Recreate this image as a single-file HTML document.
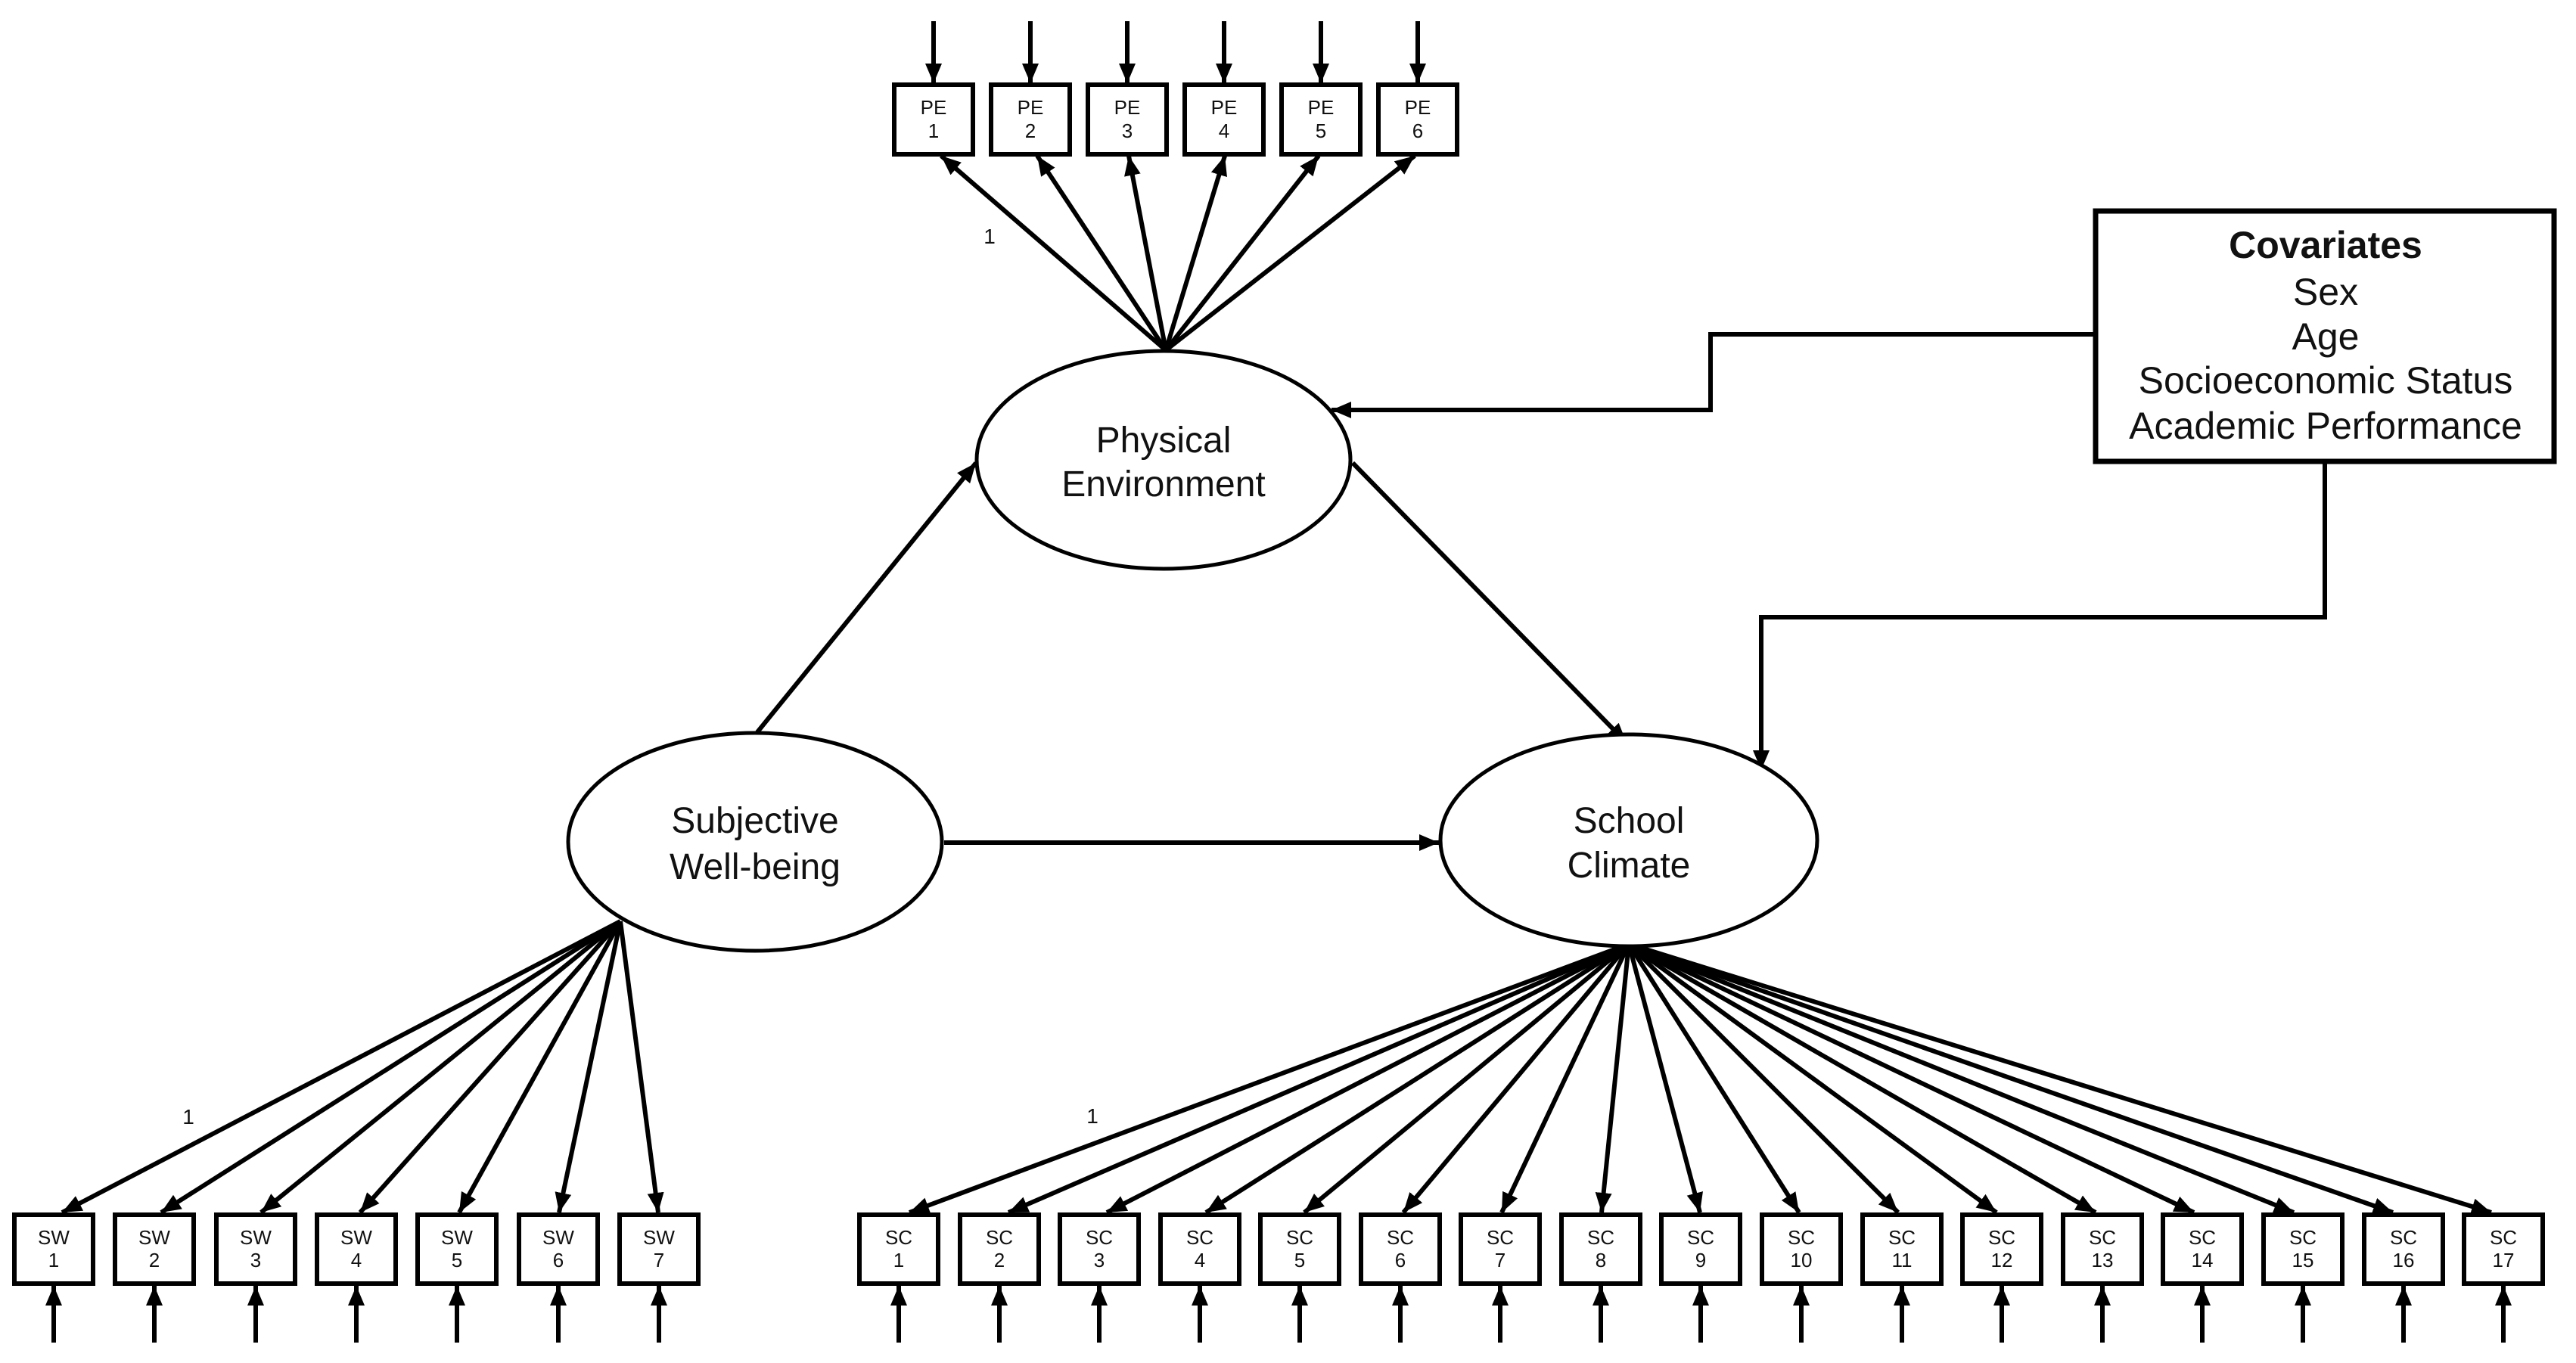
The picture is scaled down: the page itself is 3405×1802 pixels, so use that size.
<!DOCTYPE html>
<html><head><meta charset="utf-8"><style>
html,body{margin:0;padding:0;background:#fff;}
svg{display:block;}
text{font-family:"Liberation Sans",Arial,sans-serif;fill:#111;}
</style></head><body>
<svg width="3405" height="1802" viewBox="0 0 3405 1802" xmlns="http://www.w3.org/2000/svg">
<defs>
<marker id="a" markerUnits="userSpaceOnUse" markerWidth="28" markerHeight="24" refX="26" refY="11" orient="auto"><path d="M0,0 L26,11 L0,22 z" fill="#000"/></marker>
</defs>
<rect width="3405" height="1802" fill="#fff"/>

<g stroke="#000" stroke-width="6" fill="none" marker-end="url(#a)">
<line x1="1234" y1="28" x2="1234" y2="110"/>
<line x1="1362" y1="28" x2="1362" y2="110"/>
<line x1="1490" y1="28" x2="1490" y2="110"/>
<line x1="1618" y1="28" x2="1618" y2="110"/>
<line x1="1746" y1="28" x2="1746" y2="110"/>
<line x1="1874" y1="28" x2="1874" y2="110"/>
<line x1="1541" y1="463" x2="1244" y2="206"/>
<line x1="1541" y1="463" x2="1371" y2="206"/>
<line x1="1541" y1="463" x2="1492" y2="206"/>
<line x1="1541" y1="463" x2="1619" y2="206"/>
<line x1="1541" y1="463" x2="1743" y2="206"/>
<line x1="1541" y1="463" x2="1870" y2="206"/>
<line x1="820" y1="1218" x2="82" y2="1603"/>
<line x1="820" y1="1218" x2="213" y2="1603"/>
<line x1="820" y1="1218" x2="345" y2="1603"/>
<line x1="820" y1="1218" x2="476" y2="1603"/>
<line x1="820" y1="1218" x2="607" y2="1603"/>
<line x1="820" y1="1218" x2="739" y2="1603"/>
<line x1="820" y1="1218" x2="870" y2="1603"/>
<line x1="2153" y1="1248" x2="1202" y2="1603"/>
<line x1="2153" y1="1248" x2="1333" y2="1603"/>
<line x1="2153" y1="1248" x2="1463" y2="1603"/>
<line x1="2153" y1="1248" x2="1594" y2="1603"/>
<line x1="2153" y1="1248" x2="1724" y2="1603"/>
<line x1="2153" y1="1248" x2="1855" y2="1603"/>
<line x1="2153" y1="1248" x2="1985" y2="1603"/>
<line x1="2153" y1="1248" x2="2117" y2="1603"/>
<line x1="2153" y1="1248" x2="2247" y2="1603"/>
<line x1="2153" y1="1248" x2="2378" y2="1603"/>
<line x1="2153" y1="1248" x2="2509" y2="1603"/>
<line x1="2153" y1="1248" x2="2639" y2="1603"/>
<line x1="2153" y1="1248" x2="2770" y2="1603"/>
<line x1="2153" y1="1248" x2="2900" y2="1603"/>
<line x1="2153" y1="1248" x2="3032" y2="1603"/>
<line x1="2153" y1="1248" x2="3163" y2="1603"/>
<line x1="2153" y1="1248" x2="3293" y2="1603"/>
<line x1="71" y1="1775" x2="71" y2="1700"/>
<line x1="204" y1="1775" x2="204" y2="1700"/>
<line x1="338" y1="1775" x2="338" y2="1700"/>
<line x1="471" y1="1775" x2="471" y2="1700"/>
<line x1="604" y1="1775" x2="604" y2="1700"/>
<line x1="738" y1="1775" x2="738" y2="1700"/>
<line x1="871" y1="1775" x2="871" y2="1700"/>
<line x1="1188" y1="1775" x2="1188" y2="1700"/>
<line x1="1321" y1="1775" x2="1321" y2="1700"/>
<line x1="1453" y1="1775" x2="1453" y2="1700"/>
<line x1="1586" y1="1775" x2="1586" y2="1700"/>
<line x1="1718" y1="1775" x2="1718" y2="1700"/>
<line x1="1851" y1="1775" x2="1851" y2="1700"/>
<line x1="1983" y1="1775" x2="1983" y2="1700"/>
<line x1="2116" y1="1775" x2="2116" y2="1700"/>
<line x1="2248" y1="1775" x2="2248" y2="1700"/>
<line x1="2381" y1="1775" x2="2381" y2="1700"/>
<line x1="2514" y1="1775" x2="2514" y2="1700"/>
<line x1="2646" y1="1775" x2="2646" y2="1700"/>
<line x1="2779" y1="1775" x2="2779" y2="1700"/>
<line x1="2911" y1="1775" x2="2911" y2="1700"/>
<line x1="3044" y1="1775" x2="3044" y2="1700"/>
<line x1="3177" y1="1775" x2="3177" y2="1700"/>
<line x1="3309" y1="1775" x2="3309" y2="1700"/>
</g>

<g stroke="#000" stroke-width="6" fill="none" marker-end="url(#a)">
<line x1="1001" y1="968" x2="1290" y2="612"/>
<line x1="1788" y1="612" x2="2150" y2="982"/>
<line x1="1248" y1="1114" x2="1902" y2="1114"/>
<polyline points="2783,442 2261,442 2261,542 1760,542"/>
<polyline points="3073,612 3073,816 2328,816 2328,1018"/>
</g>

<g stroke="#000" stroke-width="5" fill="#fff">
<ellipse cx="1538" cy="608" rx="247" ry="144"/>
<ellipse cx="998" cy="1113" rx="247" ry="144"/>
<ellipse cx="2153" cy="1111" rx="249" ry="140"/>
</g>
<g font-size="48" text-anchor="middle">
<text x="1538" y="598">Physical</text>
<text x="1538" y="656">Environment</text>
<text x="998" y="1101">Subjective</text>
<text x="998" y="1162">Well-being</text>
<text x="2153" y="1101">School</text>
<text x="2153" y="1160">Climate</text>
</g>

<rect x="2770" y="279" width="606" height="331" fill="#fff" stroke="#000" stroke-width="7"/>
<g font-size="50" text-anchor="middle">
<text x="3074" y="341" font-weight="bold">Covariates</text>
<text x="3074" y="403">Sex</text>
<text x="3074" y="462">Age</text>
<text x="3074" y="520">Socioeconomic Status</text>
<text x="3074" y="580">Academic Performance</text>
</g>

<g stroke="#000" stroke-width="6" fill="#fff">
<rect x="1182" y="112" width="104" height="92"/>
<rect x="1310" y="112" width="104" height="92"/>
<rect x="1438" y="112" width="104" height="92"/>
<rect x="1566" y="112" width="104" height="92"/>
<rect x="1694" y="112" width="104" height="92"/>
<rect x="1822" y="112" width="104" height="92"/>
</g>
<g font-size="26" text-anchor="middle" fill="#222">
<text x="1234" y="151">PE</text><text x="1234" y="182">1</text>
<text x="1362" y="151">PE</text><text x="1362" y="182">2</text>
<text x="1490" y="151">PE</text><text x="1490" y="182">3</text>
<text x="1618" y="151">PE</text><text x="1618" y="182">4</text>
<text x="1746" y="151">PE</text><text x="1746" y="182">5</text>
<text x="1874" y="151">PE</text><text x="1874" y="182">6</text>
</g>

<g stroke="#000" stroke-width="6" fill="#fff">
<rect x="19" y="1606" width="104" height="91"/>
<rect x="152" y="1606" width="104" height="91"/>
<rect x="286" y="1606" width="104" height="91"/>
<rect x="419" y="1606" width="104" height="91"/>
<rect x="552" y="1606" width="104" height="91"/>
<rect x="686" y="1606" width="104" height="91"/>
<rect x="819" y="1606" width="104" height="91"/>
</g>
<g font-size="26" text-anchor="middle">
<text x="71" y="1645">SW</text><text x="71" y="1675">1</text>
<text x="204" y="1645">SW</text><text x="204" y="1675">2</text>
<text x="338" y="1645">SW</text><text x="338" y="1675">3</text>
<text x="471" y="1645">SW</text><text x="471" y="1675">4</text>
<text x="604" y="1645">SW</text><text x="604" y="1675">5</text>
<text x="738" y="1645">SW</text><text x="738" y="1675">6</text>
<text x="871" y="1645">SW</text><text x="871" y="1675">7</text>
</g>

<g stroke="#000" stroke-width="6" fill="#fff">
<rect x="1136" y="1606" width="104" height="91"/>
<rect x="1269" y="1606" width="104" height="91"/>
<rect x="1401" y="1606" width="104" height="91"/>
<rect x="1534" y="1606" width="104" height="91"/>
<rect x="1666" y="1606" width="104" height="91"/>
<rect x="1799" y="1606" width="104" height="91"/>
<rect x="1931" y="1606" width="104" height="91"/>
<rect x="2064" y="1606" width="104" height="91"/>
<rect x="2196" y="1606" width="104" height="91"/>
<rect x="2329" y="1606" width="104" height="91"/>
<rect x="2462" y="1606" width="104" height="91"/>
<rect x="2594" y="1606" width="104" height="91"/>
<rect x="2727" y="1606" width="104" height="91"/>
<rect x="2859" y="1606" width="104" height="91"/>
<rect x="2992" y="1606" width="104" height="91"/>
<rect x="3125" y="1606" width="104" height="91"/>
<rect x="3257" y="1606" width="104" height="91"/>
</g>
<g font-size="26" text-anchor="middle">
<text x="1188" y="1645">SC</text><text x="1188" y="1675">1</text>
<text x="1321" y="1645">SC</text><text x="1321" y="1675">2</text>
<text x="1453" y="1645">SC</text><text x="1453" y="1675">3</text>
<text x="1586" y="1645">SC</text><text x="1586" y="1675">4</text>
<text x="1718" y="1645">SC</text><text x="1718" y="1675">5</text>
<text x="1851" y="1645">SC</text><text x="1851" y="1675">6</text>
<text x="1983" y="1645">SC</text><text x="1983" y="1675">7</text>
<text x="2116" y="1645">SC</text><text x="2116" y="1675">8</text>
<text x="2248" y="1645">SC</text><text x="2248" y="1675">9</text>
<text x="2381" y="1645">SC</text><text x="2381" y="1675">10</text>
<text x="2514" y="1645">SC</text><text x="2514" y="1675">11</text>
<text x="2646" y="1645">SC</text><text x="2646" y="1675">12</text>
<text x="2779" y="1645">SC</text><text x="2779" y="1675">13</text>
<text x="2911" y="1645">SC</text><text x="2911" y="1675">14</text>
<text x="3044" y="1645">SC</text><text x="3044" y="1675">15</text>
<text x="3177" y="1645">SC</text><text x="3177" y="1675">16</text>
<text x="3309" y="1645">SC</text><text x="3309" y="1675">17</text>
</g>

<g font-size="28" text-anchor="middle">
<text x="1308" y="322">1</text>
<text x="249" y="1486">1</text>
<text x="1444" y="1485">1</text>
</g>
</svg>
</body></html>
